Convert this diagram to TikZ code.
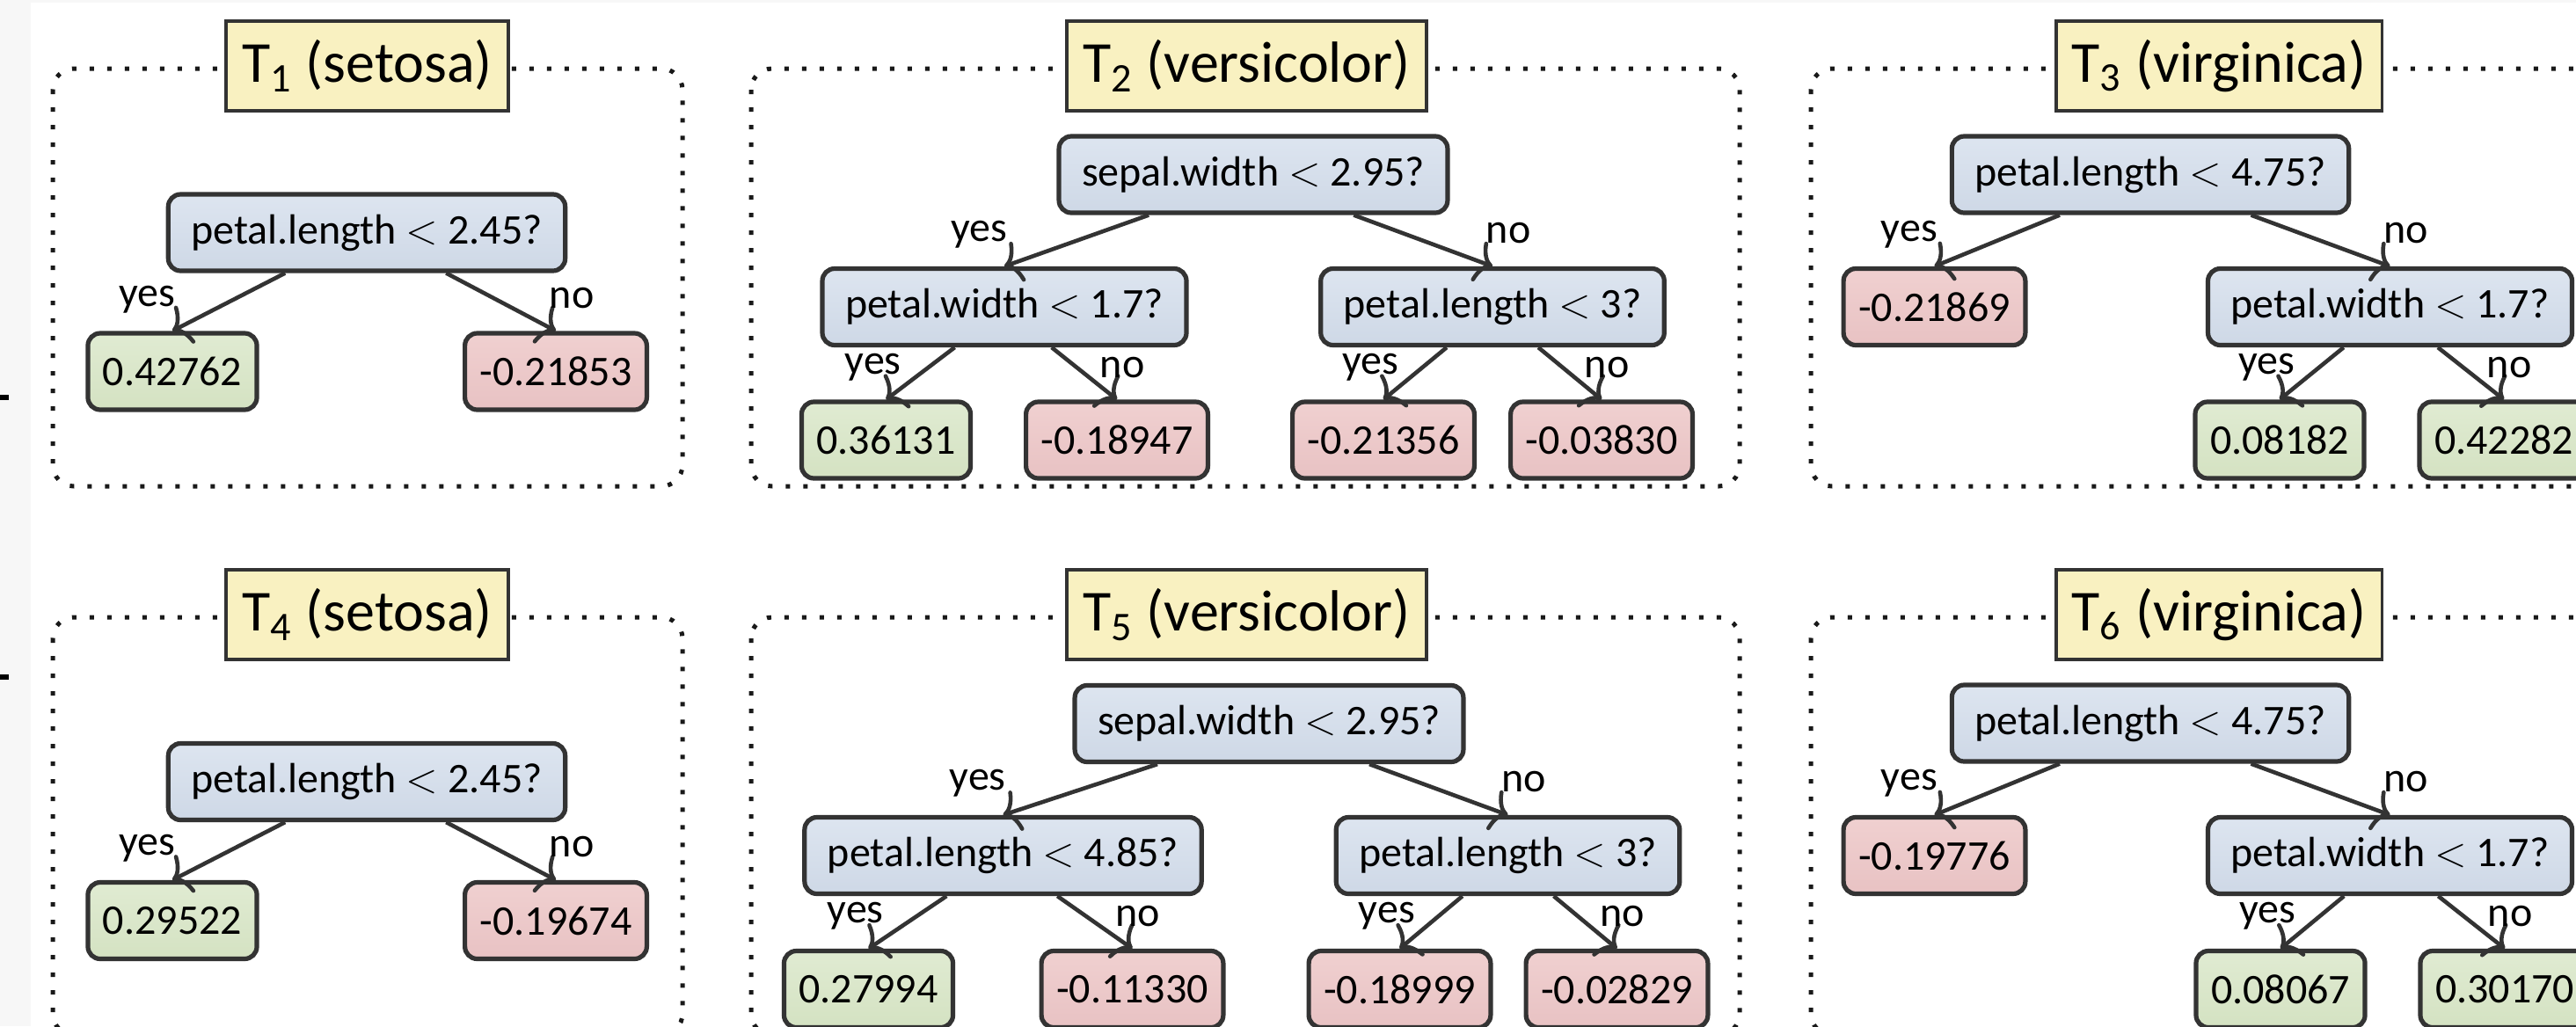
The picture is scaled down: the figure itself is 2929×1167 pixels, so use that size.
\documentclass[tikz,border=0pt]{standalone}
\usepackage{fontspec}
\setmainfont{Carlito}
\usetikzlibrary{calc,arrows.meta}

\definecolor{rimgray}{RGB}{51,51,51}
\definecolor{titlefill}{RGB}{249,241,193}
\definecolor{testtop}{RGB}{221,229,240}
\definecolor{testbot}{RGB}{206,216,230}
\definecolor{postop}{RGB}{224,235,210}
\definecolor{posbot}{RGB}{212,226,194}
\definecolor{negtop}{RGB}{240,208,208}
\definecolor{negbot}{RGB}{232,194,195}

\tikzset{
  treeframe/.style={draw=black!90, line width=1.25pt, dash pattern=on 1.25pt off 3.75pt, rounded corners=6pt},
  titlenode/.style={draw=rimgray, line width=0.9pt, fill=titlefill, inner xsep=4.5pt, minimum height=25.5pt, font=\fontsize{16.5}{18}\selectfont},
  testnode/.style={draw=rimgray, line width=1.3pt, rounded corners=3.5pt, top color=testtop, bottom color=testbot, inner xsep=6.5pt, minimum height=21.75pt, font=\fontsize{12}{14}\selectfont},
  leafpos/.style={testnode, top color=postop, bottom color=posbot, inner xsep=4.25pt},
  leafneg/.style={testnode, top color=negtop, bottom color=negbot, inner xsep=4.25pt},
  branch/.style={draw=rimgray, line width=1.15pt, -{To[length=4.5pt,width=12pt]}},
  yeslab/.style={anchor=base east, inner sep=0pt, font=\fontsize{12}{13}\selectfont},
  nolab/.style={anchor=base west, inner sep=0pt, font=\fontsize{12}{13}\selectfont}
}

\begin{document}
\begin{tikzpicture}[x=0.25pt,y=0.25pt,yscale=-1,xscale=1]
        \clip (0,0) rectangle (2929,1167);
        
        %Shape: page strips and ticks
        \fill[black!3] (0,0) rectangle (35,1167);
        \fill[black!3] (0,0) rectangle (2929,3);
        \fill[black] (0,449) rectangle (10,455);
        \fill[black] (0,767) rectangle (10,773);
        
        %Shape: dotted frames, top row
        \draw[treeframe] (60,78) rectangle (776,553);
        \draw[treeframe] (854,78) rectangle (1978,553);
        \draw[treeframe] (2059,78) rectangle (2985,553);
        %Shape: dotted frames, bottom row
        \draw[treeframe] (60,702) rectangle (776,1177);
        \draw[treeframe] (854,702) rectangle (1978,1177);
        \draw[treeframe] (2059,702) rectangle (2985,1177);
        
        % Title Nodes
        \draw (417.5,75) node [titlenode] (t1) {T\textsubscript{1} (setosa)};
        \draw (1417.5,75) node [titlenode] (t2) {T\textsubscript{2} (versicolor)};
        \draw (2523,75) node [titlenode] (t3) {T\textsubscript{3} (virginica)};
        \draw (417.5,699) node [titlenode] (t4) {T\textsubscript{4} (setosa)};
        \draw (1417.5,699) node [titlenode] (t5) {T\textsubscript{5} (versicolor)};
        \draw (2523,699) node [titlenode] (t6) {T\textsubscript{6} (virginica)};
        
        % Tree 1
        \draw (417,264.5) node [testnode] (r1) {petal.length $<$ 2.45?};
        \draw (196,422.5) node [leafpos] (r1y) {0.42762};
        \draw (632,422.5) node [leafneg] (r1n) {-0.21853};
        \draw[branch] ($(r1.south)!.42!(r1.south -| r1y)$) -- (r1y.north);
        \draw[branch] ($(r1.south)!.42!(r1.south -| r1n)$) -- (r1n.north);
        \draw (r1y.north) ++(4,-28) node [yeslab] {yes};
        \draw (r1n.north) ++(-8,-26) node [nolab] {no};
        
        % Tree 2
        \draw (1425,198.5) node [testnode] (r2) {sepal.width $<$ 2.95?};
        \draw (1142,349) node [testnode] (r2y) {petal.width $<$ 1.7?};
        \draw (1697,349) node [testnode] (r2n) {petal.length $<$ 3?};
        \draw (1007.5,500.5) node [leafpos] (r2yy) {0.36131};
        \draw (1270,500.5) node [leafneg] (r2yn) {-0.18947};
        \draw (1573,500.5) node [leafneg] (r2ny) {-0.21356};
        \draw (1821,500.5) node [leafneg] (r2nn) {-0.03830};
        \draw[branch] ($(r2.south)!.42!(r2.south -| r2y)$) -- (r2y.north);
        \draw[branch] ($(r2.south)!.42!(r2.south -| r2n)$) -- (r2n.north);
        \draw[branch] ($(r2y.south)!.42!(r2y.south -| r2yy)$) -- (r2yy.north);
        \draw[branch] ($(r2y.south)!.42!(r2y.south -| r2yn)$) -- (r2yn.north);
        \draw[branch] ($(r2n.south)!.42!(r2n.south -| r2ny)$) -- (r2ny.north);
        \draw[branch] ($(r2n.south)!.42!(r2n.south -| r2nn)$) -- (r2nn.north);
        \draw (r2y.north) ++(4,-28) node [yeslab] {yes};
        \draw (r2n.north) ++(-8,-26) node [nolab] {no};
        \draw (r2yy.north) ++(18,-29) node [yeslab] {yes};
        \draw (r2yn.north) ++(-20,-25) node [nolab] {no};
        \draw (r2ny.north) ++(18,-29) node [yeslab] {yes};
        \draw (r2nn.north) ++(-20,-25) node [nolab] {no};
        
        % Tree 3
        \draw (2445,198.5) node [testnode] (r3) {petal.length $<$ 4.75?};
        \draw (2199.5,349) node [leafneg] (r3y) {-0.21869};
        \draw (2717.5,349) node [testnode] (r3n) {petal.width $<$ 1.7?};
        \draw (2592,500.5) node [leafpos] (r3ny) {0.08182};
        \draw (2847,500.5) node [leafpos] (r3nn) {0.42282};
        \draw[branch] ($(r3.south)!.42!(r3.south -| r3y)$) -- (r3y.north);
        \draw[branch] ($(r3.south)!.42!(r3.south -| r3n)$) -- (r3n.north);
        \draw[branch] ($(r3n.south)!.42!(r3n.south -| r3ny)$) -- (r3ny.north);
        \draw[branch] ($(r3n.south)!.42!(r3n.south -| r3nn)$) -- (r3nn.north);
        \draw (r3y.north) ++(4,-28) node [yeslab] {yes};
        \draw (r3n.north) ++(-8,-26) node [nolab] {no};
        \draw (r3ny.north) ++(18,-29) node [yeslab] {yes};
        \draw (r3nn.north) ++(-20,-25) node [nolab] {no};
        
        % Tree 4
        \draw (417,889) node [testnode] (r4) {petal.length $<$ 2.45?};
        \draw (196,1047) node [leafpos] (r4y) {0.29522};
        \draw (632,1047) node [leafneg] (r4n) {-0.19674};
        \draw[branch] ($(r4.south)!.42!(r4.south -| r4y)$) -- (r4y.north);
        \draw[branch] ($(r4.south)!.42!(r4.south -| r4n)$) -- (r4n.north);
        \draw (r4y.north) ++(4,-28) node [yeslab] {yes};
        \draw (r4n.north) ++(-8,-26) node [nolab] {no};
        
        % Tree 5
        \draw (1443,823) node [testnode] (r5) {sepal.width $<$ 2.95?};
        \draw (1140.5,973) node [testnode] (r5y) {petal.length $<$ 4.85?};
        \draw (1714.5,973) node [testnode] (r5n) {petal.length $<$ 3?};
        \draw (987.5,1125) node [leafpos] (r5yy) {0.27994};
        \draw (1287.5,1125) node [leafneg] (r5yn) {-0.11330};
        \draw (1591.5,1125) node [leafneg] (r5ny) {-0.18999};
        \draw (1838.5,1125) node [leafneg] (r5nn) {-0.02829};
        \draw[branch] ($(r5.south)!.42!(r5.south -| r5y)$) -- (r5y.north);
        \draw[branch] ($(r5.south)!.42!(r5.south -| r5n)$) -- (r5n.north);
        \draw[branch] ($(r5y.south)!.42!(r5y.south -| r5yy)$) -- (r5yy.north);
        \draw[branch] ($(r5y.south)!.42!(r5y.south -| r5yn)$) -- (r5yn.north);
        \draw[branch] ($(r5n.south)!.42!(r5n.south -| r5ny)$) -- (r5ny.north);
        \draw[branch] ($(r5n.south)!.42!(r5n.south -| r5nn)$) -- (r5nn.north);
        \draw (r5y.north) ++(4,-28) node [yeslab] {yes};
        \draw (r5n.north) ++(-8,-26) node [nolab] {no};
        \draw (r5yy.north) ++(18,-29) node [yeslab] {yes};
        \draw (r5yn.north) ++(-20,-25) node [nolab] {no};
        \draw (r5ny.north) ++(18,-29) node [yeslab] {yes};
        \draw (r5nn.north) ++(-20,-25) node [nolab] {no};
        
        % Tree 6
        \draw (2445,822.5) node [testnode] (r6) {petal.length $<$ 4.75?};
        \draw (2199.5,973) node [leafneg] (r6y) {-0.19776};
        \draw (2717.5,973) node [testnode] (r6n) {petal.width $<$ 1.7?};
        \draw (2593,1125) node [leafpos] (r6ny) {0.08067};
        \draw (2848,1125) node [leafpos] (r6nn) {0.30170};
        \draw[branch] ($(r6.south)!.42!(r6.south -| r6y)$) -- (r6y.north);
        \draw[branch] ($(r6.south)!.42!(r6.south -| r6n)$) -- (r6n.north);
        \draw[branch] ($(r6n.south)!.42!(r6n.south -| r6ny)$) -- (r6ny.north);
        \draw[branch] ($(r6n.south)!.42!(r6n.south -| r6nn)$) -- (r6nn.north);
        \draw (r6y.north) ++(4,-28) node [yeslab] {yes};
        \draw (r6n.north) ++(-8,-26) node [nolab] {no};
        \draw (r6ny.north) ++(18,-29) node [yeslab] {yes};
        \draw (r6nn.north) ++(-20,-25) node [nolab] {no};
        
\end{tikzpicture}
\end{document}
